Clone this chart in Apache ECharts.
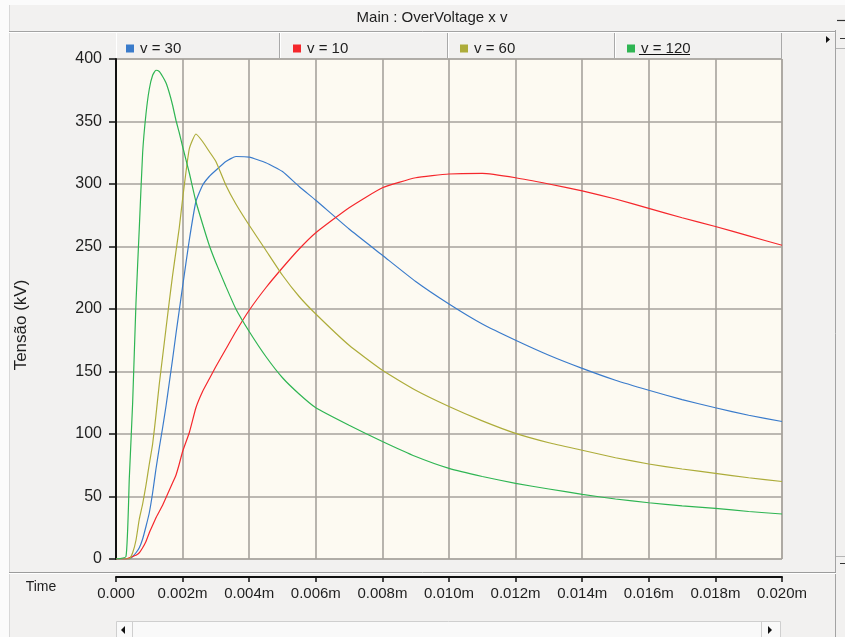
<!DOCTYPE html>
<html>
<head>
<meta charset="utf-8">
<script src="https://cdn.jsdelivr.net/npm/echarts@6/dist/echarts.min.js"></script>
<style>
  html, body { margin: 0; padding: 0; background: #f2f1f0; }
  #chart { width: 845px; height: 637px; }
</style>
</head>
<body>
<div id="chart"></div>
<script>
// Sample times in milliseconds (axis labels show them as 0.000 .. 0.020m)
const timeMs = [0, 0.3, 0.4, 0.5, 0.6, 0.7, 0.8, 0.9, 1.0, 1.1, 1.2, 1.3, 1.4, 1.5, 1.6, 1.7, 1.8, 1.9,
  2.0, 2.2, 2.4, 2.6, 2.8, 3.0, 3.3, 3.6, 4.0, 4.5, 5.0, 5.5, 6.0, 7, 8, 9, 10, 11, 12, 13, 14, 15, 16, 17, 18, 19, 20];

// Overvoltage (kV) for each speed v
const v30 = [0, 0, 0, 2, 5, 9, 16, 26, 37, 53, 72, 89, 105, 122, 141, 160, 180, 199,
  218, 255, 286, 299, 306, 311, 318, 322, 321.5, 317, 310, 298, 287, 264, 243, 222, 204, 188, 175, 163, 152.5, 143, 135, 127.5, 121, 115, 110];
const v10 = [0, 0, 1, 2, 3, 5, 9, 14, 21, 27, 33, 38, 43, 49, 55, 61, 67, 76,
  86, 101, 121, 134, 144, 154, 168, 182, 199, 217, 233, 248, 261, 281, 297, 305, 308, 308.5, 305, 300, 294.5, 288, 280.5, 273, 266, 258.5, 251];
const v60 = [0, 0, 0, 5, 15, 32, 44, 59, 76, 92, 115, 140, 162, 184, 206, 227, 246, 265,
  288, 328, 340, 334, 326, 318, 299, 284, 267, 247, 227, 210, 196, 171, 151, 135, 122, 110.5, 100.5, 93, 87, 81, 76, 72, 68.5, 65, 62];
const v120 = [0, 2, 65, 125, 205, 265, 325, 356, 376, 387, 391, 390, 386, 381, 373, 363, 351, 341,
  330, 309, 286, 268, 251, 237, 218, 200, 182, 162, 145, 132, 121, 107, 94, 82, 72.5, 66, 60.5, 56, 51.7, 48, 45, 42.5, 40.5, 38, 36];

const seriesNames = ['v = 30', 'v = 10', 'v = 60', 'v = 120'];
const seriesValues = [v30, v10, v60, v120];
const lineColors = ['#3a7bcb', '#f5272c', '#adac3a', '#2fb553'];
const legendLeft = [121, 288, 455, 622];

const yTicks = [0, 50, 100, 150, 200, 250, 300, 350, 400];

const font = 'Arial, "Liberation Sans", sans-serif';
const textColor = '#1e1e1e';
const gridColor = '#a6a29c';

const chart = echarts.init(document.getElementById('chart'), null, { renderer: 'canvas' });

const series = seriesNames.map((name, i) => ({
  name: name,
  type: 'line',
  data: timeMs.map((t, k) => [t, seriesValues[i][k]]),
  showSymbol: false,
  smooth: 0.15,
  lineStyle: { width: 1.2, color: lineColors[i] },
  itemStyle: { color: lineColors[i] },
  emphasis: { disabled: true },
  animation: false,
  z: 3
}));

const legends = seriesNames.map((name, i) => ({
  data: [{ name: name, icon: 'rect' }],
  left: legendLeft[i],
  top: 36,
  itemWidth: 8,
  itemHeight: 8,
  itemGap: 6,
  textStyle: { fontFamily: font, fontSize: 15, color: textColor, padding: [0, 0, 0, 1] },
  selectedMode: false
}));

const line = (x1, y1, x2, y2, color, w) => ({
  type: 'line', silent: true,
  shape: { x1, y1, x2, y2 },
  style: { stroke: color, lineWidth: w || 1 }
});

const graphics = [
  // outer window edges
  { type: 'rect', silent: true, shape: { x: 0, y: 0, width: 845, height: 5 }, style: { fill: '#fbfbfb' } },
  { type: 'rect', silent: true, shape: { x: 0, y: 0, width: 9, height: 637 }, style: { fill: '#fbfbfb' } },
  line(9.5, 5, 9.5, 637, '#d8d8d8'),
  // title bar
  { type: 'text', silent: true, x: 432, y: 18,
    style: { text: 'Main : OverVoltage x v', font: '15px ' + font, fill: textColor, align: 'center', verticalAlign: 'middle' } },
  line(9, 31.5, 836, 31.5, '#a3a3a3'),
  line(9, 32.5, 836, 32.5, '#ffffff'),
  line(837, 20.5, 845, 20.5, '#333333', 1.2),
  // legend cells
  line(116.5, 33, 116.5, 58, '#ffffff'),
  line(279.5, 33, 279.5, 58, '#a9a9a9'),
  line(280.5, 33, 280.5, 58, '#ffffff'),
  line(447.5, 33, 447.5, 58, '#a9a9a9'),
  line(448.5, 33, 448.5, 58, '#ffffff'),
  line(614.5, 33, 614.5, 58, '#a9a9a9'),
  line(615.5, 33, 615.5, 58, '#ffffff'),
  line(781.5, 33, 781.5, 58, '#a9a9a9'),
  line(639, 54.5, 690, 54.5, '#111111', 1.2),
  // right side strip
  line(835.5, 30, 835.5, 637, '#a3a3a3'),
  line(836, 48.5, 845, 48.5, '#b5b5b5'),
  line(840, 38.5, 845, 38.5, '#333333'),
  { type: 'polygon', silent: true, shape: { points: [[826, 36], [830, 39.5], [826, 43]] }, style: { fill: '#111111' } },
  line(836, 556.5, 845, 556.5, '#b5b5b5'),
  line(840, 563.5, 845, 563.5, '#333333'),
  // separator above the time axis
  line(9, 572.5, 836, 572.5, '#9c9c9c'),
  line(9, 573.5, 836, 573.5, '#ffffff'),
  { type: 'text', silent: true, x: 41, y: 587,
    style: { text: 'Time', font: '14px ' + font, fill: textColor, align: 'center', verticalAlign: 'middle' } },
  // vertical axis title
  { type: 'text', silent: true, x: 21, y: 325, rotation: Math.PI / 2,
    style: { text: 'Tensão (kV)', font: '17px ' + font, fill: textColor, align: 'center', verticalAlign: 'middle' } },
  // horizontal scrollbar
  { type: 'rect', silent: true, shape: { x: 116.5, y: 621.5, width: 664, height: 17 }, style: { fill: '#f9f9f9', stroke: '#cfcfcf', lineWidth: 1 } },
  line(132.5, 622, 132.5, 637, '#cfcfcf'),
  line(761.5, 622, 761.5, 637, '#cfcfcf'),
  { type: 'polygon', silent: true, shape: { points: [[125, 626], [121, 630], [125, 634]] }, style: { fill: '#111111' } },
  { type: 'polygon', silent: true, shape: { points: [[768, 626], [772, 630], [768, 634]] }, style: { fill: '#111111' } }
];

chart.setOption({
  backgroundColor: '#f2f1f0',
  animation: false,
  legend: legends,
  grid: {
    left: 116, top: 59, width: 666, height: 500,
    show: true, backgroundColor: '#fdfaf2', borderColor: gridColor, borderWidth: 1
  },
  xAxis: {
    type: 'value',
    min: 0, max: 20, interval: 2,
    offset: 18,
    axisLine: { show: true, onZero: false, lineStyle: { color: '#111111', width: 2 } },
    axisTick: { show: true, length: 5, lineStyle: { color: '#111111', width: 1.5 } },
    axisLabel: {
      margin: 9, fontFamily: font, fontSize: 15, color: textColor,
      formatter: v => v === 0 ? '0.000' : (v / 1000).toFixed(3) + 'm'
    },
    splitLine: { show: true, lineStyle: { color: gridColor, width: 1.6 } }
  },
  yAxis: {
    type: 'value',
    min: yTicks[0], max: yTicks[yTicks.length - 1], interval: yTicks[1] - yTicks[0],
    axisLine: { show: true, lineStyle: { color: '#111111', width: 2 } },
    axisTick: { show: true, length: 7, lineStyle: { color: '#111111', width: 1.5 } },
    axisLabel: { margin: 14, fontFamily: font, fontSize: 16, color: textColor },
    splitLine: { show: true, lineStyle: { color: gridColor, width: 1.6 } }
  },
  graphic: graphics,
  series: series
});
</script>
</body>
</html>
